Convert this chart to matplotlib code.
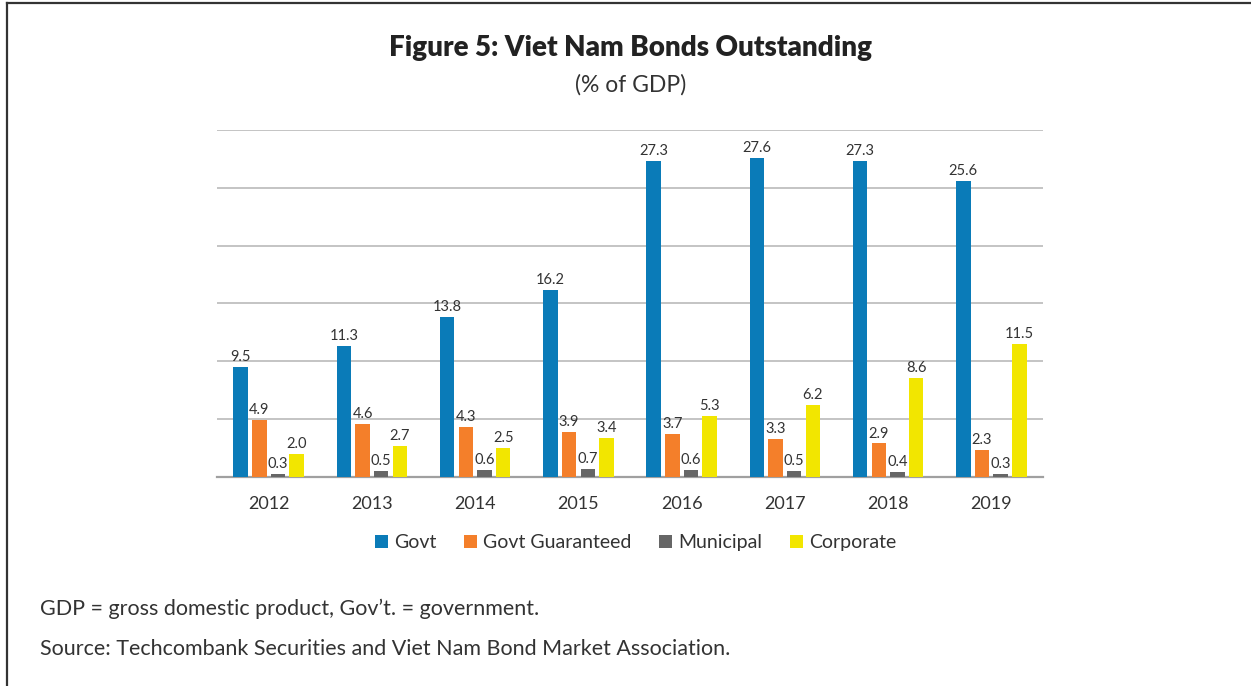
import matplotlib
matplotlib.use("Agg")
import matplotlib.pyplot as plt
import numpy as np
from matplotlib.lines import Line2D
from matplotlib.patches import Patch

plt.rcParams['font.family'] = ['Lato', 'DejaVu Sans']

years = ["2012", "2013", "2014", "2015", "2016", "2017", "2018", "2019"]
govt = [9.5, 11.3, 13.8, 16.2, 27.3, 27.6, 27.3, 25.6]
govt_guaranteed = [4.9, 4.6, 4.3, 3.9, 3.7, 3.3, 2.9, 2.3]
municipal = [0.3, 0.5, 0.6, 0.7, 0.6, 0.5, 0.4, 0.3]
corporate = [2.0, 2.7, 2.5, 3.4, 5.3, 6.2, 8.6, 11.5]

series = [
    ("Govt", govt, "#0a7bb8"),
    ("Govt Guaranteed", govt_guaranteed, "#f47f2a"),
    ("Municipal", municipal, "#666666"),
    ("Corporate", corporate, "#f2e600"),
]

fig = plt.figure(figsize=(12.51, 6.86), dpi=100)
ax = fig.add_axes([0.1735, 0.3047, 0.6602, 0.5058])

x = np.arange(len(years))
step = 0.181
width = 0.14
for i, (name, vals, color) in enumerate(series):
    pos = x + (i - 1.5) * step
    ax.bar(pos, vals, width=width, color=color, zorder=3, label=name)
    for p, v in zip(pos, vals):
        ax.text(p, v + 0.25, f"{v:.1f}", ha="center", va="bottom",
                fontsize=10.5, color="#333333", zorder=4)

ax.set_xlim(-0.5, len(years) - 0.5)
ax.set_ylim(0, 30)
ax.set_yticks(np.arange(0, 31, 5))
ax.set_yticklabels([])
ax.yaxis.grid(True, color="#b4b4b4", linewidth=1.1, zorder=0)
ax.tick_params(axis="both", length=0)
ax.set_xticks(x)
ax.set_xticklabels(years, fontsize=13, color="#333333")
ax.tick_params(axis="x", pad=14)
for s in ["top", "right", "left"]:
    ax.spines[s].set_visible(False)
ax.spines["bottom"].set_color("#a0a0a0")
ax.spines["bottom"].set_linewidth(1.6)

handles = [Patch(facecolor=c, edgecolor="none") for _, _, c in series]
fig.legend(handles, [n for n, _, _ in series], loc="center",
           bbox_to_anchor=(0.508, 0.2085), ncol=4, frameon=False,
           fontsize=14, handlelength=0.7, handleheight=0.7,
           handletextpad=0.3, columnspacing=1.4, labelcolor="#333333")

fig.text(0.504, 0.93, "Figure 5: Viet Nam Bonds Outstanding", ha="center",
         va="center", fontsize=20, fontweight="heavy", color="#222222")
fig.text(0.504, 0.876, "(% of GDP)", ha="center", va="center",
         fontsize=16.5, color="#333333")

fig.text(0.032, 0.112, "GDP = gross domestic product, Gov\u2019t. = government.",
         ha="left", va="center", fontsize=15.5, color="#333333")
fig.text(0.032, 0.054, "Source: Techcombank Securities and Viet Nam Bond Market Association.",
         ha="left", va="center", fontsize=15.5, color="#333333")

# frame along the top and left edges
fig.add_artist(Line2D([0.0056, 0.0056], [0.0, 0.9956], color="#333333",
                      linewidth=1.6, transform=fig.transFigure))
fig.add_artist(Line2D([0.0056, 1.0], [0.9956, 0.9956], color="#333333",
                      linewidth=1.6, transform=fig.transFigure))

fig.savefig("out.png", dpi=100)
